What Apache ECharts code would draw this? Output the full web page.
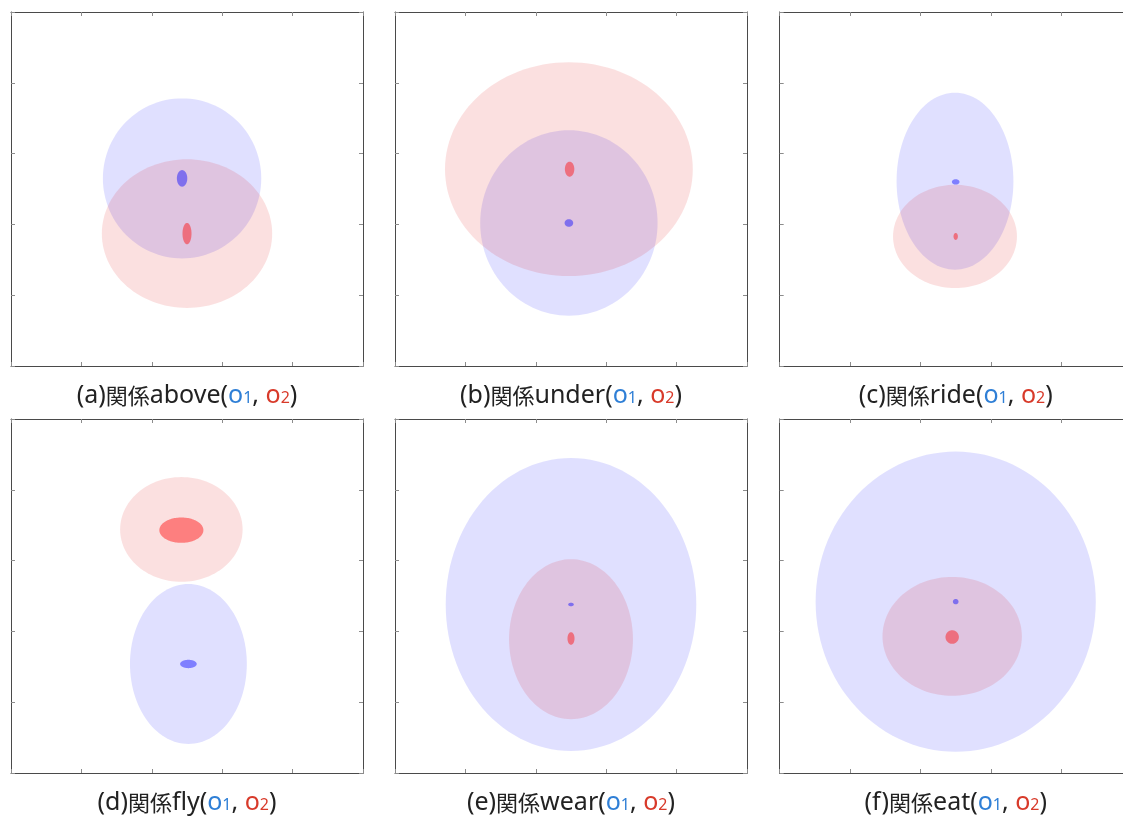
<!DOCTYPE html>
<html>
<head>
<meta charset="utf-8">
<script src="https://cdn.jsdelivr.net/npm/echarts@6/dist/echarts.min.js"></script>
<style>
html,body{margin:0;padding:0;background:#fff;overflow:hidden;}
#chart{width:1123px;height:817px;}
</style>
</head>
<body>
<div id="chart"></div>
<script>
// ---- data ----
const panelLetters = ['(a)', '(b)', '(c)', '(d)', '(e)', '(f)'];
const relations = ['above', 'under', 'ride', 'fly', 'wear', 'eat'];
const tickValues = [0, 1, 2, 3, 4, 5];

// o1 (blue) broad region ellipses: centre x, centre y, radius x, radius y
const o1RegionCx = [2.43, 2.47, 2.49, 2.52, 2.50, 2.50];
const o1RegionCy = [2.65, 2.02, 2.61, 1.54, 2.38, 2.42];
const o1RegionRx = [1.125, 1.26, 0.83, 0.83, 1.78, 1.99];
const o1RegionRy = [1.13, 1.31, 1.25, 1.13, 2.07, 2.12];

// o2 (red) broad region ellipses
const o2RegionCx = [2.50, 2.47, 2.49, 2.42, 2.50, 2.45];
const o2RegionCy = [1.87, 2.78, 1.83, 3.44, 1.89, 1.93];
const o2RegionRx = [1.21, 1.76, 0.88, 0.87, 0.88, 0.99];
const o2RegionRy = [1.05, 1.51, 0.73, 0.74, 1.13, 0.84];

// o1 (blue) core ellipses
const o1CoreCx = [2.43, 2.47, 2.50, 2.52, 2.50, 2.50];
const o1CoreCy = [2.65, 2.02, 2.60, 1.54, 2.38, 2.42];
const o1CoreRx = [0.074, 0.061, 0.054, 0.118, 0.040, 0.040];
const o1CoreRy = [0.117, 0.054, 0.038, 0.059, 0.025, 0.038];

// o2 (red) core ellipses
const o2CoreCx = [2.50, 2.48, 2.50, 2.42, 2.50, 2.45];
const o2CoreCy = [1.87, 2.78, 1.83, 3.43, 1.90, 1.92];
const o2CoreRx = [0.064, 0.067, 0.031, 0.313, 0.050, 0.095];
const o2CoreRy = [0.151, 0.106, 0.049, 0.179, 0.089, 0.096];

// ---- layout / style ----
const colLeft = [11, 395, 779.7];
const rowTop = [12, 419];
const boxW = 352, boxH = 354;
const LATIN = '"Noto Sans", "Noto Sans CJK JP", sans-serif';
const CJK = '"Noto Sans CJK JP", "Noto Sans", sans-serif';
const c1 = '#2f7fd6', c2 = '#d83a2a', ink = '#222222';

const grids = [], xAxes = [], yAxes = [], series = [];

function ellipseRenderer(fill) {
  return function (params, api) {
    const cx = api.value(0), cy = api.value(1), rx = api.value(2), ry = api.value(3);
    const pts = [];
    const N = 120;
    for (let k = 0; k < N; k++) {
      const t = 2 * Math.PI * k / N;
      pts.push(api.coord([cx + rx * Math.cos(t), cy + ry * Math.sin(t)]));
    }
    return { type: 'polygon', shape: { points: pts }, style: { fill: fill }, silent: true };
  };
}

const axisCommon = {
  min: tickValues[0], max: tickValues[tickValues.length - 1], interval: 1, type: 'value',
  axisLine: { show: true, onZero: false, lineStyle: { color: '#4a4a4a', width: 1 } },
  axisTick: { show: true, inside: true, length: 4, lineStyle: { color: '#8c8c8c', width: 1 } },
  axisLabel: { show: false },
  splitLine: { show: false }
};

const LH = 30;
const richStyles = {
  t: { fontFamily: LATIN, fontSize: 25, color: ink, lineHeight: LH },
  k: { fontFamily: CJK, fontSize: 22, color: ink, lineHeight: LH },
  b: { fontFamily: LATIN, fontSize: 25, color: c1, lineHeight: LH },
  bs: { fontFamily: LATIN, fontSize: 16, color: c1, lineHeight: 20, verticalAlign: 'middle', padding: [5, 0, 0, 0] },
  r: { fontFamily: LATIN, fontSize: 25, color: c2, lineHeight: LH },
  rs: { fontFamily: LATIN, fontSize: 16, color: c2, lineHeight: 20, verticalAlign: 'middle', padding: [5, 0, 0, 0] }
};

for (let i = 0; i < 6; i++) {
  const r = Math.floor(i / 3), c = i % 3;
  grids.push({ left: colLeft[c], top: rowTop[r], width: boxW, height: boxH, containLabel: false, outerBoundsMode: 'none' });
  const caption = '{t|' + panelLetters[i] + '}{k|関係}{t|' + relations[i] + '(}{b|o}{bs|1}{t|, }{r|o}{rs|2}{t|)}';
  xAxes.push(Object.assign({}, axisCommon, {
    gridIndex: i, position: 'bottom',
    name: caption, nameLocation: 'middle', nameGap: 15,
    nameTextStyle: { fontFamily: LATIN, fontSize: 25, color: ink, rich: richStyles }
  }));
  xAxes.push(Object.assign({}, axisCommon, { gridIndex: i, position: 'top' }));
  yAxes.push(Object.assign({}, axisCommon, { gridIndex: i, position: 'left' }));
  yAxes.push(Object.assign({}, axisCommon, { gridIndex: i, position: 'right' }));

  const xi = 2 * i, yi = 2 * i;
  const layers = [
    [[o1RegionCx[i], o1RegionCy[i], o1RegionRx[i], o1RegionRy[i]], 'rgba(0,0,255,0.12)'],
    [[o2RegionCx[i], o2RegionCy[i], o2RegionRx[i], o2RegionRy[i]], 'rgba(225,0,0,0.12)'],
    [[o1CoreCx[i], o1CoreCy[i], o1CoreRx[i], o1CoreRy[i]], 'rgba(0,0,255,0.43)'],
    [[o2CoreCx[i], o2CoreCy[i], o2CoreRx[i], o2CoreRy[i]], 'rgba(255,0,0,0.43)']
  ];
  layers.forEach(function (L) {
    series.push({
      type: 'custom', xAxisIndex: xi, yAxisIndex: yi,
      renderItem: ellipseRenderer(L[1]),
      data: [L[0]],
      encode: { x: 0, y: 1 },
      clip: false, silent: true, animation: false
    });
  });
}

const chart = echarts.init(document.getElementById('chart'), null, { renderer: 'canvas' });
chart.setOption({
  backgroundColor: '#ffffff',
  animation: false,
  grid: grids,
  xAxis: xAxes,
  yAxis: yAxes,
  series: series
});
</script>
</body>
</html>
